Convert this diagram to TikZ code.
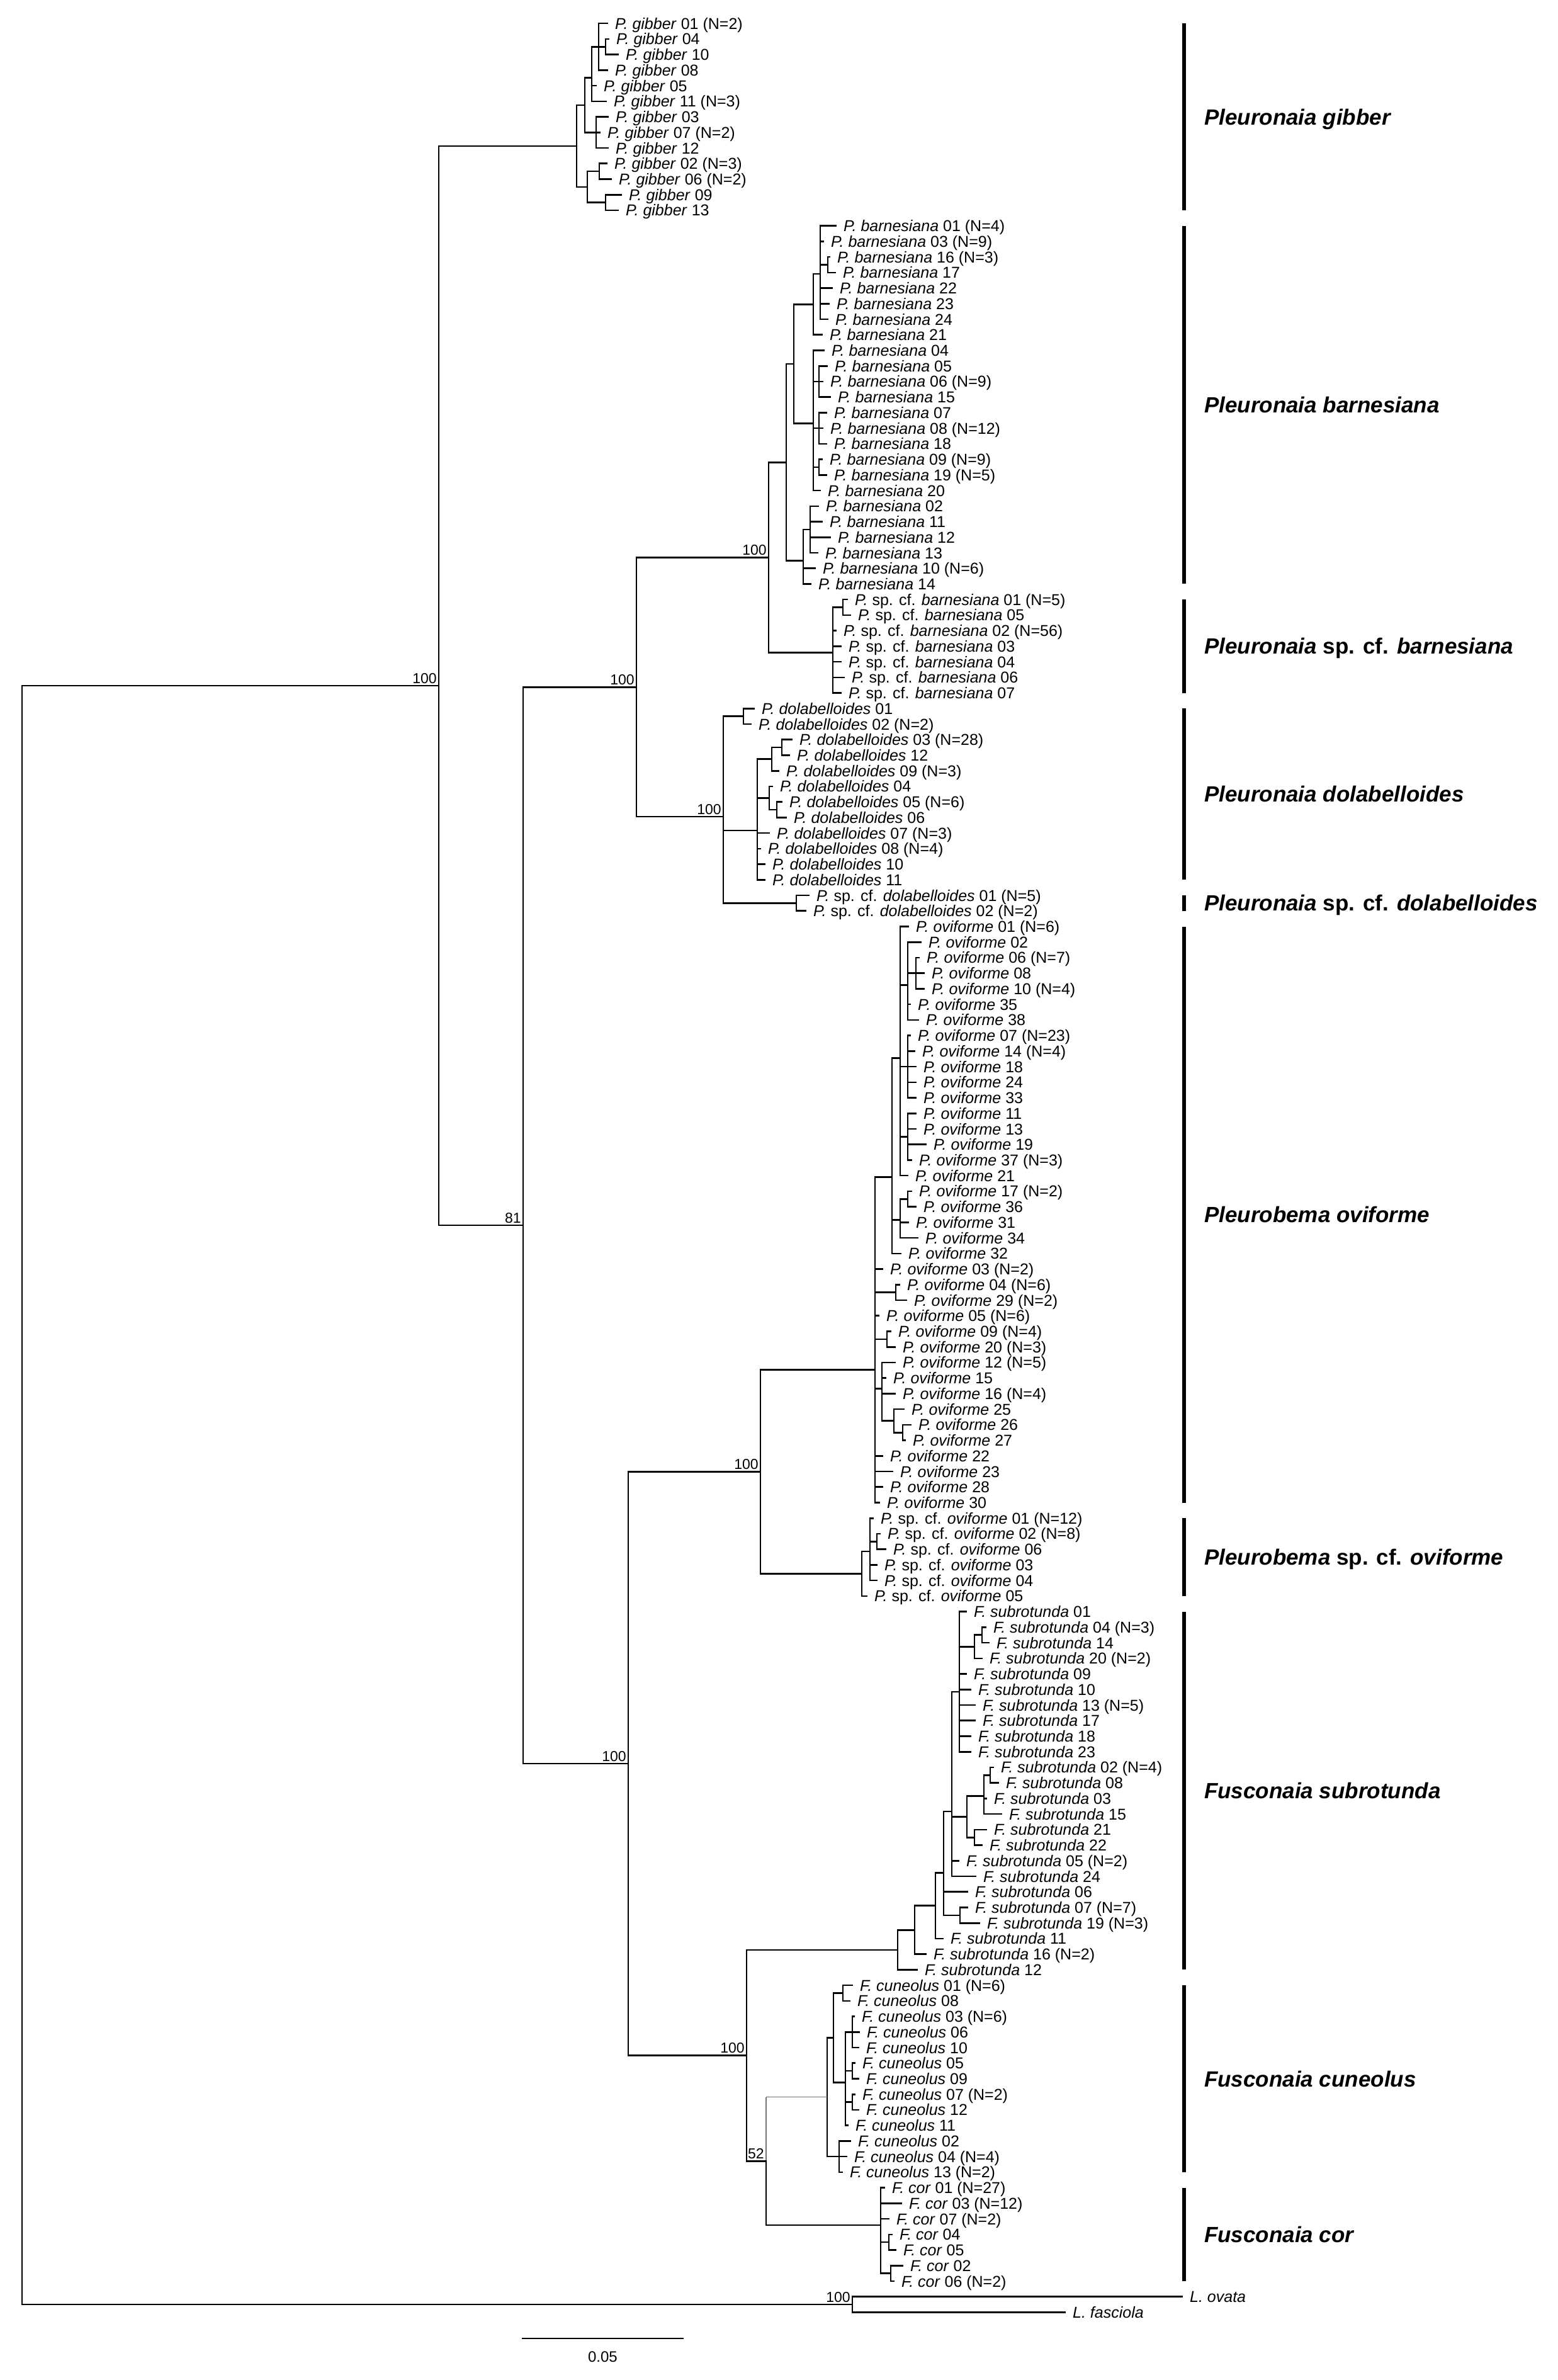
\documentclass[tikz,border=0pt]{standalone}
\usepackage{fontspec}
\setmainfont{Liberation Sans}
\usetikzlibrary{calc}
\newdimen\tdim
\newcommand\ZPG[1]{\textit{P. gibber} #1}
\newcommand\ZPB[1]{\textit{P. barnesiana} #1}
\newcommand\ZPSB[1]{\textit{P.} sp. cf. \textit{barnesiana} #1}
\newcommand\ZPD[1]{\textit{P. dolabelloides} #1}
\newcommand\ZPSD[1]{\textit{P.} sp. cf. \textit{dolabelloides} #1}
\newcommand\ZPO[1]{\textit{P. oviforme} #1}
\newcommand\ZPSO[1]{\textit{P.} sp. cf. \textit{oviforme} #1}
\newcommand\ZFS[1]{\textit{F. subrotunda} #1}
\newcommand\ZFC[1]{\textit{F. cuneolus} #1}
\newcommand\ZFR[1]{\textit{F. cor} #1}
\newcommand\tleaf[4]{\coordinate (#1) at (#2,#3); \node[leaflab] (#1-l) at (#1) {#4};}
\newcommand\inode[4][br]{%
  \xdef\myS{0}\xdef\myN{0}%
  \foreach \c in {#4}{%
    \pgfextracty{\tdim}{\pgfpointanchor{\c}{center}}%
    \pgfmathtruncatemacro\myNt{\myN+1}\xdef\myN{\myNt}%
    \pgfmathsetmacro\mySt{(\myS)+((\tdim)-(\myS))/(\myN)}\xdef\myS{\mySt}%
    \ifnum\myN=1 \xdef\myF{\c}\fi
    \xdef\myL{\c}%
  }%
  \coordinate (#2) at (#3pt,\myS pt);%
  \draw[#1] (#2 |- \myF) -- (#2 |- \myL);%
  \foreach \c in {#4}{\draw[#1] (#2 |- \c) -- (\c);}%
}
\newcommand\cladebar[4]{%
  \coordinate (#1t) at (1881,#2); \coordinate (#1b) at (1881,#3);
  \draw[cbar] (#1t) -- (#1b);
  \node[clab] (#1l) at ($(#1t)!.5!(#1b)+(32,0)$) {#4};}
\newcommand\supp[2]{\node[suplab] (#1-s) at ([xshift=-3pt,yshift=4pt]#1) {#2};}
\begin{document}
\begin{tikzpicture}[x=1pt,y=-24.73pt,
  br/.style={line width=2.6pt,line cap=rect},
  gbr/.style={line width=1.2pt,draw=black!55},
  cbar/.style={line width=5.5pt},
  leaflab/.style={anchor=west,inner sep=0pt,xshift=12pt,font=\fontsize{25}{30}\selectfont,text height=18pt,text depth=0pt},
  suplab/.style={anchor=base east,inner sep=0pt,font=\fontsize{23}{27}\selectfont},
  clab/.style={anchor=west,inner sep=0pt,font=\fontsize{35}{40}\selectfont\bfseries\itshape,text height=25pt,text depth=0pt}]
\useasboundingbox (0,-1.504) rectangle (2475,151.35);
% ---------------- gibber
\tleaf{g01}{965}{0}{\ZPG{01 (N=2)}}
\tleaf{g04}{967}{1}{\ZPG{04}}
\tleaf{g10}{982}{2}{\ZPG{10}}
\tleaf{g08}{965}{3}{\ZPG{08}}
\tleaf{g05}{947}{4}{\ZPG{05}}
\tleaf{g11}{963}{5}{\ZPG{11 (N=3)}}
\tleaf{g03}{966}{6}{\ZPG{03}}
\tleaf{g07}{953}{7}{\ZPG{07 (N=2)}}
\tleaf{g12}{966}{8}{\ZPG{12}}
\tleaf{g02}{964}{9}{\ZPG{02 (N=3)}}
\tleaf{g06}{971}{10}{\ZPG{06 (N=2)}}
\tleaf{g09}{987}{11}{\ZPG{09}}
\tleaf{g13}{982}{12}{\ZPG{13}}
\inode{gY}{962}{g04,g10}
\inode{gX}{951}{g01,gY,g08}
\inode{gA1}{940}{gX,g05,g11}
\inode{gA2}{947}{g03,g07,g12}
\inode{gA}{929}{gA1,gA2}
\inode{gB1}{952}{g02,g06}
\inode{gB2}{962}{g09,g13}
\inode{gB}{933}{gB1,gB2}
\inode{G}{916}{gA,gB}
% ---------------- barnesiana
\tleaf{b01}{1328}{13}{\ZPB{01 (N=4)}}
\tleaf{b03}{1308}{14}{\ZPB{03 (N=9)}}
\tleaf{b16}{1318}{15}{\ZPB{16 (N=3)}}
\tleaf{b17}{1327}{16}{\ZPB{17}}
\tleaf{b22}{1322}{17}{\ZPB{22}}
\tleaf{b23}{1317}{18}{\ZPB{23}}
\tleaf{b24}{1315}{19}{\ZPB{24}}
\tleaf{b21}{1306}{20}{\ZPB{21}}
\tleaf{b04}{1309}{21}{\ZPB{04}}
\tleaf{b05}{1314}{22}{\ZPB{05}}
\tleaf{b06}{1307}{23}{\ZPB{06 (N=9)}}
\tleaf{b15}{1319}{24}{\ZPB{15}}
\tleaf{b07}{1313}{25}{\ZPB{07}}
\tleaf{b08}{1307}{26}{\ZPB{08 (N=12)}}
\tleaf{b18}{1313}{27}{\ZPB{18}}
\tleaf{b09}{1306}{28}{\ZPB{09 (N=9)}}
\tleaf{b19}{1313}{29}{\ZPB{19 (N=5)}}
\tleaf{b20}{1303}{30}{\ZPB{20}}
\tleaf{b02}{1300}{31}{\ZPB{02}}
\tleaf{b11}{1306}{32}{\ZPB{11}}
\tleaf{b12}{1319}{33}{\ZPB{12}}
\tleaf{b13}{1299}{34}{\ZPB{13}}
\tleaf{b10}{1295}{35}{\ZPB{10 (N=6)}}
\tleaf{b14}{1288}{36}{\ZPB{14}}
\inode{bN1617}{1315}{b16,b17}
\inode{bA1}{1303}{b01,b03,bN1617,b22,b23,b24}
\inode{bA}{1292}{bA1,b21}
\inode{bN05}{1301}{b05,b06,b15}
\inode{bN07}{1301}{b07,b08,b18}
\inode{bN09}{1301}{b09,b19}
\inode{bB}{1292}{b04,bN05,bN07,bN09,b20}
\inode{bB1}{1261}{bA,bB}
\inode{bN02}{1287}{b02,b11,b12,b13}
\inode{bB2}{1276}{bN02,b10,b14}
\inode{bC}{1249}{bB1,bB2}
% ---------------- sp. cf. barnesiana
\tleaf{sb01}{1346}{37}{\ZPSB{01 (N=5)}}
\tleaf{sb05}{1351}{38}{\ZPSB{05}}
\tleaf{sb02}{1328}{39}{\ZPSB{02 (N=56)}}
\tleaf{sb03}{1336}{40}{\ZPSB{03}}
\tleaf{sb04}{1336}{41}{\ZPSB{04}}
\tleaf{sb06}{1341}{42}{\ZPSB{06}}
\tleaf{sb07}{1336}{43}{\ZPSB{07}}
\inode{sbN01}{1339}{sb01,sb05}
\inode{SB}{1323}{sbN01,sb02,sb03,sb04,sb06,sb07}
\inode{BS}{1221}{bC,SB}
% ---------------- dolabelloides
\tleaf{d01}{1198}{44}{\ZPD{01}}
\tleaf{d02}{1193}{45}{\ZPD{02 (N=2)}}
\tleaf{d03}{1258}{46}{\ZPD{03 (N=28)}}
\tleaf{d12}{1254}{47}{\ZPD{12}}
\tleaf{d09}{1237}{48}{\ZPD{09 (N=3)}}
\tleaf{d04}{1227}{49}{\ZPD{04}}
\tleaf{d05}{1242}{50}{\ZPD{05 (N=6)}}
\tleaf{d06}{1249}{51}{\ZPD{06}}
\tleaf{d07}{1222}{52}{\ZPD{07 (N=3)}}
\tleaf{d08}{1208}{53}{\ZPD{08 (N=4)}}
\tleaf{d10}{1215}{54}{\ZPD{10}}
\tleaf{d11}{1215}{55}{\ZPD{11}}
\tleaf{sd01}{1285}{56}{\ZPSD{01 (N=5)}}
\tleaf{sd02}{1280}{57}{\ZPSD{02 (N=2)}}
\inode{dN0102}{1181}{d01,d02}
\inode{dN0312}{1242}{d03,d12}
\inode{dN0309}{1226}{dN0312,d09}
\inode{dN0506}{1234}{d05,d06}
\inode{dN0406}{1222}{d04,dN0506}
\inode{dR}{1203}{dN0309,dN0406,d07,d08,d10,d11}
\inode{SD}{1265}{sd01,sd02}
\inode{D}{1149}{dN0102,dR,SD}
\inode{P}{1011}{BS,D}
% ---------------- oviforme
\tleaf{o01}{1443}{58}{\ZPO{01 (N=6)}}
\tleaf{o02}{1463}{59}{\ZPO{02}}
\tleaf{o06}{1460}{60}{\ZPO{06 (N=7)}}
\tleaf{o08}{1468}{61}{\ZPO{08}}
\tleaf{o10}{1468}{62}{\ZPO{10 (N=4)}}
\tleaf{o35}{1446}{63}{\ZPO{35}}
\tleaf{o38}{1459}{64}{\ZPO{38}}
\tleaf{o07}{1446}{65}{\ZPO{07 (N=23)}}
\tleaf{o14}{1453}{66}{\ZPO{14 (N=4)}}
\tleaf{o18}{1455}{67}{\ZPO{18}}
\tleaf{o24}{1455}{68}{\ZPO{24}}
\tleaf{o33}{1455}{69}{\ZPO{33}}
\tleaf{o11}{1455}{70}{\ZPO{11}}
\tleaf{o13}{1455}{71}{\ZPO{13}}
\tleaf{o19}{1471}{72}{\ZPO{19}}
\tleaf{o37}{1448}{73}{\ZPO{37 (N=3)}}
\tleaf{o21}{1442}{74}{\ZPO{21}}
\tleaf{o17}{1448}{75}{\ZPO{17 (N=2)}}
\tleaf{o36}{1455}{76}{\ZPO{36}}
\tleaf{o31}{1443}{77}{\ZPO{31}}
\tleaf{o34}{1458}{78}{\ZPO{34}}
\tleaf{o32}{1431}{79}{\ZPO{32}}
\tleaf{o03}{1402}{80}{\ZPO{03 (N=2)}}
\tleaf{o04}{1429}{81}{\ZPO{04 (N=6)}}
\tleaf{o29}{1440}{82}{\ZPO{29 (N=2)}}
\tleaf{o05}{1396}{83}{\ZPO{05 (N=6)}}
\tleaf{o09}{1415}{84}{\ZPO{09 (N=4)}}
\tleaf{o20}{1422}{85}{\ZPO{20 (N=3)}}
\tleaf{o12}{1422}{86}{\ZPO{12 (N=5)}}
\tleaf{o15}{1407}{87}{\ZPO{15}}
\tleaf{o16}{1422}{88}{\ZPO{16 (N=4)}}
\tleaf{o25}{1436}{89}{\ZPO{25}}
\tleaf{o26}{1447}{90}{\ZPO{26}}
\tleaf{o27}{1438}{91}{\ZPO{27}}
\tleaf{o22}{1402}{92}{\ZPO{22}}
\tleaf{o23}{1418}{93}{\ZPO{23}}
\tleaf{o28}{1402}{94}{\ZPO{28}}
\tleaf{o30}{1397}{95}{\ZPO{30}}
\inode{oN0610}{1455}{o06,o08,o10}
\inode{oN02}{1442}{o02,oN0610,o35,o38}
\inode{oN07}{1442}{o07,o14,o18,o24,o33}
\inode{oN11}{1442}{o11,o13,o19,o37}
\inode{oA}{1430}{o01,oN02,oN07,oN11,o21}
\inode{oN1736}{1442}{o17,o36}
\inode{oB}{1430}{oN1736,o31,o34}
\inode{oC}{1417}{oA,oB,o32}
\inode{oN0429}{1423}{o04,o29}
\inode{oN0920}{1409}{o09,o20}
\inode{oN2627}{1434}{o26,o27}
\inode{oN2527}{1420}{o25,oN2627}
\inode{oN12}{1401}{o12,o15,o16,oN2527}
\inode{O}{1390}{oC,o03,oN0429,o05,oN0920,oN12,o22,o23,o28,o30}
% ---------------- sp. cf. oviforme
\tleaf{so01}{1387}{96}{\ZPSO{01 (N=12)}}
\tleaf{so02}{1398}{97}{\ZPSO{02 (N=8)}}
\tleaf{so06}{1407}{98}{\ZPSO{06}}
\tleaf{so03}{1393}{99}{\ZPSO{03}}
\tleaf{so04}{1393}{100}{\ZPSO{04}}
\tleaf{so05}{1377}{101}{\ZPSO{05}}
\inode{soN0206}{1393}{so02,so06}
\inode{soA}{1382}{so01,soN0206,so03,so04}
\inode{SO}{1369}{soA,so05}
\inode{OSO}{1208}{O,SO}
% ---------------- subrotunda
\tleaf{s01}{1535}{102}{\ZFS{01}}
\tleaf{s04}{1566}{103}{\ZFS{04 (N=3)}}
\tleaf{s14}{1571}{104}{\ZFS{14}}
\tleaf{s20}{1560}{105}{\ZFS{20 (N=2)}}
\tleaf{s09}{1535}{106}{\ZFS{09}}
\tleaf{s10}{1542}{107}{\ZFS{10}}
\tleaf{s13}{1549}{108}{\ZFS{13 (N=5)}}
\tleaf{s17}{1549}{109}{\ZFS{17}}
\tleaf{s18}{1542}{110}{\ZFS{18}}
\tleaf{s23}{1542}{111}{\ZFS{23}}
\tleaf{s02}{1578}{112}{\ZFS{02 (N=4)}}
\tleaf{s08}{1586}{113}{\ZFS{08}}
\tleaf{s03}{1567}{114}{\ZFS{03}}
\tleaf{s15}{1591}{115}{\ZFS{15}}
\tleaf{s21}{1567}{116}{\ZFS{21}}
\tleaf{s22}{1560}{117}{\ZFS{22}}
\tleaf{s05}{1523}{118}{\ZFS{05 (N=2)}}
\tleaf{s24}{1550}{119}{\ZFS{24}}
\tleaf{s06}{1537}{120}{\ZFS{06}}
\tleaf{s07}{1537}{121}{\ZFS{07 (N=7)}}
\tleaf{s19}{1556}{122}{\ZFS{19 (N=3)}}
\tleaf{s11}{1498}{123}{\ZFS{11}}
\tleaf{s16}{1471}{124}{\ZFS{16 (N=2)}}
\tleaf{s12}{1457}{125}{\ZFS{12}}
\inode{sN0414}{1560}{s04,s14}
\inode{sN0420}{1548}{sN0414,s20}
\inode{sA}{1524}{s01,sN0420,s09,s10,s13,s17,s18,s23}
\inode{sN0208}{1573}{s02,s08}
\inode{sN0215}{1563}{sN0208,s03,s15}
\inode{sN2122}{1548}{s21,s22}
\inode{sB}{1536}{sN0215,sN2122}
\inode{sS4}{1512}{sA,sB,s05,s24}
\inode{sN0719}{1525}{s07,s19}
\inode{sS3}{1499}{sS4,s06,sN0719}
\inode{sS2}{1486}{sS3,s11}
\inode{sS1}{1453}{sS2,s16}
\inode{S}{1426}{sS1,s12}
% ---------------- cuneolus
\tleaf{c01}{1354}{126}{\ZFC{01 (N=6)}}
\tleaf{c08}{1350}{127}{\ZFC{08}}
\tleaf{c03}{1357}{128}{\ZFC{03 (N=6)}}
\tleaf{c06}{1365}{129}{\ZFC{06}}
\tleaf{c10}{1364}{130}{\ZFC{10}}
\tleaf{c05}{1358}{131}{\ZFC{05}}
\tleaf{c09}{1364}{132}{\ZFC{09}}
\tleaf{c07}{1358}{133}{\ZFC{07 (N=2)}}
\tleaf{c12}{1364}{134}{\ZFC{12}}
\tleaf{c11}{1347}{135}{\ZFC{11}}
\tleaf{c02}{1351}{136}{\ZFC{02}}
\tleaf{c04}{1345}{137}{\ZFC{04 (N=4)}}
\tleaf{c13}{1338}{138}{\ZFC{13 (N=2)}}
\inode{cN0108}{1339}{c01,c08}
\inode{cN0310}{1354}{c03,c06,c10}
\inode{cN0509}{1354}{c05,c09}
\inode{cN0712}{1354}{c07,c12}
\inode{cB}{1343}{cN0310,cN0509,cN0712,c11}
\inode{cA}{1324}{cN0108,cB}
\inode{cC}{1333}{c02,c04,c13}
\inode{C}{1314}{cA,cC}
% ---------------- cor
\tleaf{f01}{1405}{139}{\ZFR{01 (N=27)}}
\tleaf{f03}{1432}{140}{\ZFR{03 (N=12)}}
\tleaf{f07}{1412}{141}{\ZFR{07 (N=2)}}
\tleaf{f04}{1417}{142}{\ZFR{04}}
\tleaf{f05}{1423}{143}{\ZFR{05}}
\tleaf{f02}{1434}{144}{\ZFR{02}}
\tleaf{f06}{1420}{145}{\ZFR{06 (N=2)}}
\inode{fN0405}{1412}{f04,f05}
\inode{fN0206}{1415}{f02,f06}
\inode{COR}{1399}{f01,f03,f07,fN0405,fN0206}
\inode[gbr]{CC}{1217}{C,COR}
\draw[br] (CC) -- (CC |- COR) -- (COR);
\inode{F}{1186}{S,CC}
% ---------------- backbone
\inode{PF}{998}{OSO,F}
\inode{N81}{831}{P,PF}
\inode{IN}{697}{G,N81}
\tleaf{Lov}{1878}{146}{\textit{L. ovata}}
\tleaf{Lfa}{1692}{147}{\textit{L. fasciola}}
\inode{OG}{1354}{Lov,Lfa}
\inode{ROOT}{35}{IN,OG}
% ---------------- support values
\supp{IN}{100}
\supp{P}{100}
\supp{BS}{100}
\supp{D}{100}
\supp{N81}{81}
\supp{PF}{100}
\supp{OSO}{100}
\supp{F}{100}
\supp{CC}{52}
\supp{OG}{100}
% ---------------- clade bars
\cladebar{kg}{0}{12}{Pleuronaia gibber}
\cladebar{kb}{13}{36}{Pleuronaia barnesiana}
\cladebar{ksb}{37}{43}{Pleuronaia {\upshape sp. cf.} barnesiana}
\cladebar{kd}{44}{55}{Pleuronaia dolabelloides}
\cladebar{ksd}{56}{57}{Pleuronaia {\upshape sp. cf.} dolabelloides}
\cladebar{ko}{58}{95}{Pleurobema oviforme}
\cladebar{kso}{96}{101}{Pleurobema {\upshape sp. cf.} oviforme}
\cladebar{ks}{102}{125}{Fusconaia subrotunda}
\cladebar{kc}{126}{138}{Fusconaia cuneolus}
\cladebar{kf}{139}{145}{Fusconaia cor}
% ---------------- scale bar
\coordinate (sbl) at (829,148.68);
\coordinate (sbr) at (1086,148.68);
\draw[br,line cap=butt] (sbl) -- (sbr);
\node[inner sep=0pt,font=\fontsize{24}{28}\selectfont] (sbt) at ($(sbl)!.5!(sbr)+(0,1.17)$) {0.05};
\end{tikzpicture}
\end{document}
